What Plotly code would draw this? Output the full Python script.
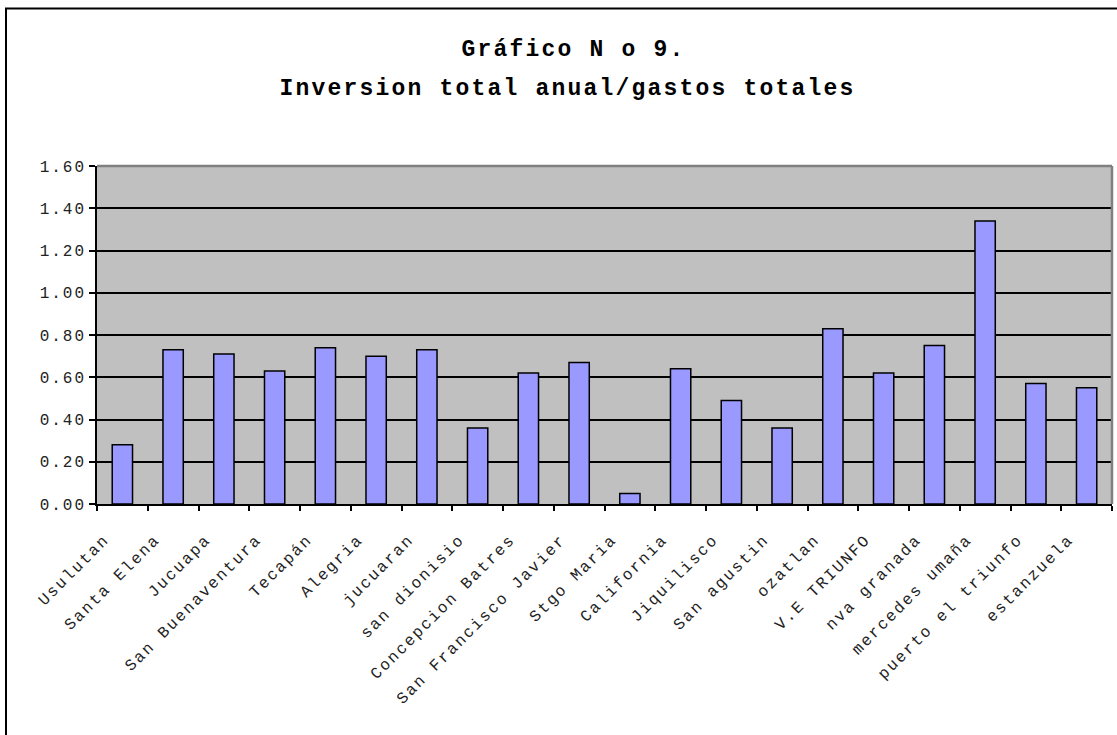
import plotly.graph_objects as go

categories = ["Usulutan", "Santa Elena", "Jucuapa", "San Buenaventura", "Tecapán",
              "Alegria", "jucuaran", "san dionisio", "Concepcion Batres",
              "San Francisco Javier", "Stgo Maria", "California", "Jiquilisco",
              "San agustin", "ozatlan", "V.E TRIUNFO", "nva granada",
              "mercedes umaña", "puerto el triunfo", "estanzuela"]
values = [0.28, 0.73, 0.71, 0.63, 0.74, 0.70, 0.73, 0.36, 0.62, 0.67,
          0.05, 0.64, 0.49, 0.36, 0.83, 0.62, 0.75, 1.34, 0.57, 0.55]
y_ticks = [0.0, 0.2, 0.4, 0.6, 0.8, 1.0, 1.2, 1.4, 1.6]
title_line1 = "Gráfico N o 9."
title_line2 = "Inversion total anual/gastos totales"

W, H = 1117, 735
L, R, T, B = 97, 5, 166, 231
pw, ph = W - L - R, H - T - B

def px_x(p):
    return (p - L) / pw

def px_y(p):
    return (H - B - p) / ph

FONT = "Liberation Mono, Courier New, monospace"

fig = go.Figure(go.Bar(
    x=categories, y=values, width=0.4,
    marker=dict(color="#9999FF", line=dict(color="black", width=1.5)),
    hoverinfo="skip",
))

fig.update_layout(
    width=W, height=H, autosize=False,
    margin=dict(l=L, r=R, t=T, b=B, pad=0),
    plot_bgcolor="#C0C0C0", paper_bgcolor="white",
    showlegend=False,
    font=dict(family=FONT, color="black"),
)
fig.update_yaxes(
    range=[0, 1.6], tickvals=y_ticks, tickformat=".2f",
    showgrid=True, gridcolor="black", gridwidth=1.5,
    showline=True, linecolor="black", linewidth=1.5,
    ticks="outside", ticklen=6, tickcolor="black", tickwidth=1.5,
    zeroline=False,
    tickfont=dict(family=FONT, size=16, color="#222222"),
)
fig.update_xaxes(
    showline=True, linecolor="black", linewidth=1.5,
    ticks="outside", tickson="boundaries", ticklen=5, tickcolor="black", tickwidth=1.5,
    tickangle=-45, showgrid=False,
    tickfont=dict(family=FONT, size=16, color="#222222"),
    ticklabelstandoff=18, ticklabelshift=-18,
)

shapes = [
    dict(type="line", xref="paper", yref="paper", x0=0, x1=1, y0=1, y1=1,
         line=dict(color="#808080", width=2.5), layer="above"),
    dict(type="line", xref="paper", yref="paper", x0=1, x1=1, y0=0, y1=1,
         line=dict(color="#808080", width=2.5), layer="above"),
    dict(type="rect", xref="paper", yref="paper",
         x0=px_x(6), x1=px_x(1300), y0=px_y(1000), y1=px_y(8.5),
         line=dict(color="black", width=2), fillcolor="rgba(0,0,0,0)", layer="above"),
]
fig.update_layout(shapes=shapes)

fig.add_annotation(text="<b>" + title_line1 + "</b>", xref="paper", yref="paper",
                   x=px_x(573), y=px_y(50), xanchor="center", yanchor="middle",
                   showarrow=False, font=dict(family=FONT, size=23, color="black"))
fig.add_annotation(text="<b>" + title_line2 + "</b>", xref="paper", yref="paper",
                   x=px_x(567), y=px_y(89), xanchor="center", yanchor="middle",
                   showarrow=False, font=dict(family=FONT, size=23, color="black"))

post = """
document.body.style.margin = '0';
var s = document.createElement('style');
s.innerHTML = 'body{margin:0;} .xtick text, .ytick text {letter-spacing: 2px;} .annotation-text {letter-spacing: 2.2px;}';
document.head.appendChild(s);
"""

fig.write_html("out.html", post_script=post, config={"displayModeBar": False})
